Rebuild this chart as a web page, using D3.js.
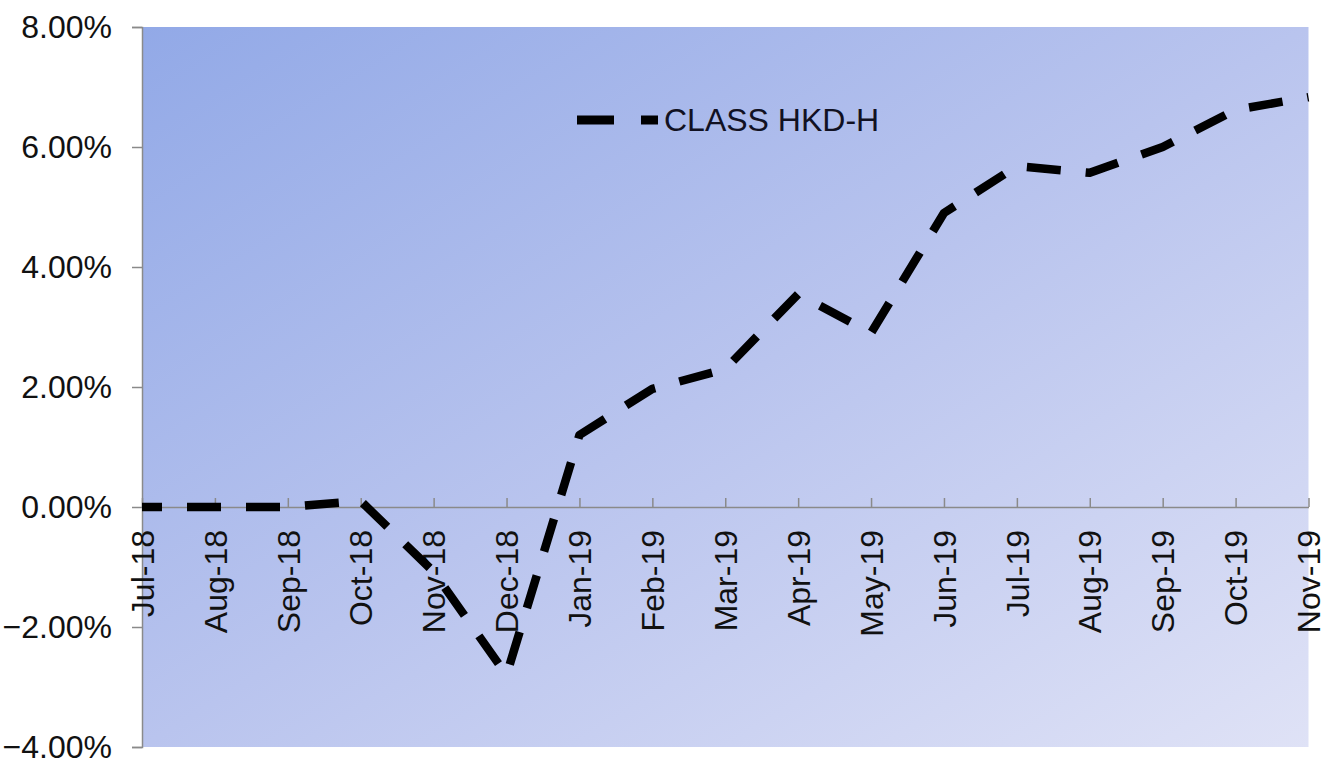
<!DOCTYPE html>
<html>
<head>
<meta charset="utf-8">
<script src="https://cdn.jsdelivr.net/npm/d3@7"></script>
<style>
  html, body { margin: 0; padding: 0; background: #ffffff; }
  svg { display: block; font-family: "Liberation Sans", Arial, sans-serif; }
</style>
</head>
<body>
<svg id="chart" width="1338" height="762"></svg>
<script>
// Monthly cumulative return of the share class
const months = ["Jul-18", "Aug-18", "Sep-18", "Oct-18", "Nov-18", "Dec-18",
                "Jan-19", "Feb-19", "Mar-19", "Apr-19", "May-19", "Jun-19",
                "Jul-19", "Aug-19", "Sep-19", "Oct-19", "Nov-19"];
const classHkdH = [0.00, 0.00, 0.00, 0.10, -1.08, -2.80,
                   1.20, 1.97, 2.30, 3.55, 2.90, 4.90,
                   5.68, 5.57, 6.00, 6.62, 6.83];
const seriesName = "CLASS HKD-H";
const yTicks = [-4, -2, 0, 2, 4, 6, 8];

const svg = d3.select("#chart");
const plotLeft = 142, plotRight = 1308.5, plotTop = 27, plotBottom = 747;

const x = d3.scalePoint().domain(months).range([plotLeft, plotRight]);
const y = d3.scaleLinear().domain([-4, 8]).range([plotBottom, plotTop]);

// Plot area background gradient
const defs = svg.append("defs");
const grad = defs.append("linearGradient")
  .attr("id", "plotBg")
  .attr("x1", "0%").attr("y1", "0%")
  .attr("x2", "100%").attr("y2", "100%");
grad.append("stop").attr("offset", "0%").attr("stop-color", "#92a9e7");
grad.append("stop").attr("offset", "50%").attr("stop-color", "#b9c4ee");
grad.append("stop").attr("offset", "100%").attr("stop-color", "#dfe2f6");

svg.append("rect")
  .attr("x", plotLeft).attr("y", plotTop)
  .attr("width", plotRight - plotLeft).attr("height", plotBottom - plotTop)
  .attr("fill", "url(#plotBg)");

// Y axis
const yAxis = d3.axisLeft(y)
  .tickValues(yTicks)
  .tickSize(10)
  .tickPadding(20)
  .tickFormat(d => d3.format(".2f")(d) + "%");
const gy = svg.append("g")
  .attr("transform", `translate(${plotLeft},0)`)
  .call(yAxis);
gy.select(".domain").attr("stroke", "#8a8a8a").attr("stroke-width", 1.5);
gy.selectAll(".tick line").attr("stroke", "#8a8a8a").attr("stroke-width", 1.5);
gy.selectAll(".tick text")
  .attr("font-size", 32)
  .attr("font-family", "Liberation Sans, Arial, sans-serif")
  .attr("fill", "#111111");

// X axis on the zero line, ticks pointing up, labels rotated
const xAxis = d3.axisBottom(x).tickSize(-9).tickSizeOuter(0).tickPadding(0);
const gx = svg.append("g")
  .attr("transform", `translate(0,${y(0)})`)
  .call(xAxis);
gx.select(".domain").attr("stroke", "#8a8a8a").attr("stroke-width", 1.5);
gx.selectAll(".tick line").attr("stroke", "#8a8a8a").attr("stroke-width", 1.5);
gx.selectAll(".tick text")
  .attr("font-size", 32)
  .attr("font-family", "Liberation Sans, Arial, sans-serif")
  .attr("fill", "#111111")
  .attr("text-anchor", "end")
  .attr("transform", "rotate(-90)")
  .attr("x", -23)
  .attr("y", 0)
  .attr("dy", "0.35em");

// Series line
const line = d3.line()
  .x((d, i) => x(months[i]))
  .y(d => y(d));

svg.append("path")
  .datum(classHkdH)
  .attr("d", line)
  .attr("fill", "none")
  .attr("stroke", "#000000")
  .attr("stroke-width", 8.5)
  .attr("stroke-dasharray", "34,25")
  .attr("stroke-dashoffset", 14)
  .attr("stroke-linejoin", "round")
  .attr("stroke-linecap", "butt");

// Legend
const legend = svg.append("g");
legend.append("line")
  .attr("x1", 577).attr("x2", 658)
  .attr("y1", 120).attr("y2", 120)
  .attr("stroke", "#000000")
  .attr("stroke-width", 9)
  .attr("stroke-dasharray", "37,27");
legend.append("text")
  .attr("x", 664).attr("y", 120)
  .attr("dy", "0.35em")
  .attr("font-size", 32)
  .attr("fill", "#111122")
  .text(seriesName);
</script>
</body>
</html>
